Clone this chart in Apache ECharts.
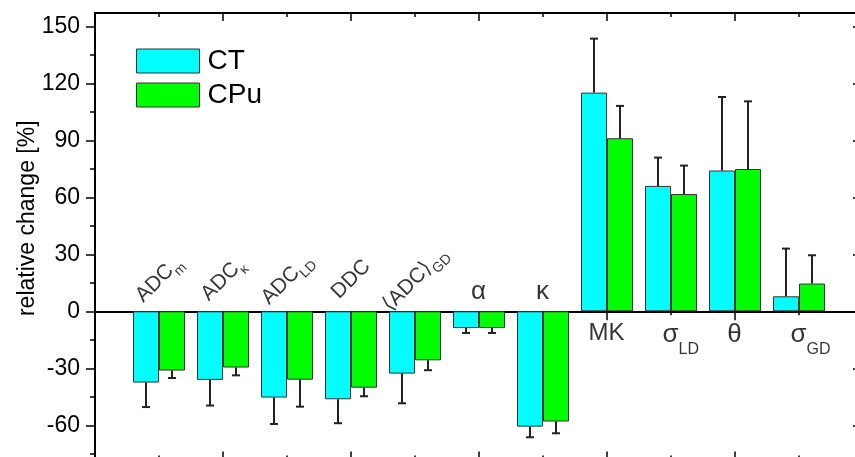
<!DOCTYPE html>
<html><head><meta charset="utf-8">
<script src="https://cdn.jsdelivr.net/npm/echarts@6/dist/echarts.min.js"></script>
<style>html,body{margin:0;padding:0;background:#fff}#c{width:855px;height:457px}</style>
</head><body><div id="c"></div>
<script>
// ---- data ----
const catMain = ['ADC', 'ADC', 'ADC', 'DDC', '⟨ADC⟩', 'α', 'κ', 'MK', 'σ', 'θ', 'σ'];
const catSub  = ['m', 'κ', 'LD', '', 'GD', '', '', '', 'LD', '', 'GD'];
const seriesNames = ['CT', 'CPu'];
const ctValues  = [-37.5, -36.1, -45.4, -46.3, -32.8, -8.8, -60.7, 115.1, 66.0, 74.1, 7.9];
const ctErrors  = [12.9, 13.5, 13.9, 12.6, 15.6, 2.6, 5.6, 28.4, 14.9, 38.7, 25.1];
const cpuValues = [-31.2, -29.6, -36.0, -40.2, -25.8, -8.8, -58.0, 91.1, 61.7, 74.9, 14.6];
const cpuErrors = [3.9, 4.1, 14.2, 4.5, 5.2, 2.6, 6.2, 17.0, 15.0, 35.6, 14.9];
const yTickLabels = [-60, -30, 0, 30, 60, 90, 120, 150];
const yMinorTicks = [-75, -45, -15, 15, 45, 75, 105, 135];
const yName = 'relative change [%]';

// ---- styles ----
const FONT = '"Liberation Sans", Arial, Helvetica, sans-serif';
const BAR_W = 26, CAP = 4;
const COLORS = ['#00ffff', '#00ff00'];
const N = catMain.length;
const slotNames = Array.from({length: N + 2}, (_, i) => String(i));

const mctx = document.createElement('canvas').getContext('2d');
function textW(t, size) { mctx.font = size + 'px ' + FONT; return mctx.measureText(t).width; }

// rich styles (subscripts pushed down with top padding)
const NF = 21, NSF = 14, ND = 6;                 // rotated negative labels
const NPAD = Math.round(0.81 * NF + ND - 0.81 * NSF);
const PF = 24, PG = 26, PSF = 16, PD = 12;       // positive labels
const PPAD = Math.round(0.81 * PG + PD - 0.81 * PSF);
const rich = {
  nm: {fontFamily: FONT, fontSize: NF, verticalAlign: 'top', color: '#000'},
  ns: {fontFamily: FONT, fontSize: NSF, verticalAlign: 'top', padding: [NPAD, 0, 0, 0], color: '#000'},
  ng: {fontFamily: FONT, fontSize: PG, verticalAlign: 'middle', color: '#000'},
  pm: {fontFamily: FONT, fontSize: PF, verticalAlign: 'top', color: '#000'},
  pg: {fontFamily: FONT, fontSize: PG, verticalAlign: 'top', color: '#000'},
  ps: {fontFamily: FONT, fontSize: PSF, verticalAlign: 'top', padding: [PPAD, 0, 0, 0], color: '#000'}
};
const isGreek = s => /^[\u0370-\u03ff]$/.test(s);

const labelData = catMain.map((main, i) => {
  const sub = catSub[i];
  const neg = ctValues[i] < 0;
  let text, lab;
  if (neg && !isGreek(main)) {
    text = '{nm|' + main + '}' + (sub ? '{ns|' + sub + '}' : '');
    lab = {rotate: 45, align: 'center', verticalAlign: 'top', position: [-7, -39]};
  } else if (neg) {
    text = '{ng|' + main + '}';
    lab = {rotate: 0, align: 'center', verticalAlign: 'middle', position: [0, -19]};
  } else {
    const st = isGreek(main) ? 'pg' : 'pm';
    let pad = '';
    if (sub) {
      const key = 'pad' + i;
      rich[key] = {width: textW(sub, PSF), fontSize: PSF, verticalAlign: 'top'};
      pad = '{' + key + '| }';
    }
    text = pad + '{' + st + '|' + main + '}' + (sub ? '{ps|' + sub + '}' : '');
    lab = {rotate: 0, align: 'center', verticalAlign: 'top', position: [0, 11]};
  }
  lab.formatter = text;
  return {value: [i + 1, 0], label: lab};
});

function errSeries(name, values, errors, dir) {
  return {
    type: 'custom', name: name, xAxisIndex: 0, yAxisIndex: 0, z: 5, silent: true,
    data: values.map((v, i) => [i + 1, v, v + Math.sign(v) * errors[i]]),
    renderItem(params, api) {
      const p0 = api.coord([api.value(0), api.value(1)]);
      const p1 = api.coord([api.value(0), api.value(2)]);
      const x = p0[0] + dir * BAR_W / 2;
      const st = {stroke: '#222', lineWidth: 2};
      return {type: 'group', children: [
        {type: 'line', shape: {x1: x, y1: p0[1], x2: x, y2: p1[1]}, style: st},
        {type: 'line', shape: {x1: x - CAP, y1: p1[1], x2: x + CAP, y2: p1[1]}, style: st}
      ]};
    }
  };
}

function frameX(pos, onZero, inside, len, minLen) {
  return {
    type: 'value', min: 0, max: N + 1, interval: 2, position: pos,
    axisLine: {show: true, onZero: onZero, onZeroAxisIndex: 0, lineStyle: {color: '#000', width: 2}},
    axisTick: {show: true, inside: inside, length: len, lineStyle: {color: '#000', width: 1.5}},
    minorTick: {show: true, splitNumber: 2, length: minLen, lineStyle: {color: '#000', width: 1.5}},
    axisLabel: {show: false}, splitLine: {show: false}, minorSplitLine: {show: false}
  };
}
function frameY(pos, ticks, inside, len, showLine, extra) {
  return Object.assign({
    type: 'value', min: -78, max: 157, position: pos,
    axisLine: {show: showLine, onZero: false, lineStyle: {color: '#000', width: 2}},
    axisTick: {show: true, inside: inside, length: len, customValues: ticks, lineStyle: {color: '#000', width: 1.5}},
    axisLabel: {show: false}, splitLine: {show: false}
  }, extra || {});
}

const chart = echarts.init(document.getElementById('c'), null, {renderer: 'canvas'});
chart.setOption({
  animation: false,
  textStyle: {fontFamily: FONT, color: '#000'},
  grid: {left: 95, right: -8, top: 13, bottom: -2.5, containLabel: false, outerBoundsMode: 'none'},
  legend: {
    data: seriesNames, orient: 'vertical', left: 136, top: 47, icon: 'rect', padding: 0,
    itemWidth: 63, itemHeight: 24, itemGap: 6,
    itemStyle: {borderColor: '#333', borderWidth: 1},
    textStyle: {fontFamily: FONT, fontSize: 28, color: '#000', lineHeight: 24, padding: [0, 0, 0, 3]}
  },
  xAxis: [
    {type: 'category', data: slotNames, boundaryGap: false, show: false},
    frameX('bottom', false, true, 8, 4),
    frameX('top', false, true, 8, 4),
    frameX('bottom', true, false, 9, 4)
  ],
  yAxis: [
    frameY('left', yTickLabels, false, 9, true, {
      axisLabel: {show: true, customValues: yTickLabels, margin: 15, fontSize: 23, fontFamily: FONT, color: '#000'},
      name: yName, nameLocation: 'middle', nameRotate: 90, nameGap: 56, nameMoveOverlap: false,
      nameTextStyle: {fontSize: 23, fontFamily: FONT, color: '#000', padding: [0, 0, 0, 36]}
    }),
    frameY('left', yMinorTicks, false, 5, false),
    frameY('right', yTickLabels, true, 10, true),
    frameY('right', yMinorTicks, true, 6, false)
  ],
  series: [
    {type: 'bar', name: seriesNames[0], xAxisIndex: 0, yAxisIndex: 0, barWidth: BAR_W, barGap: '0%', z: 3,
     itemStyle: {color: COLORS[0], borderColor: '#333', borderWidth: 1},
     data: ctValues.map((v, i) => [i + 1, v])},
    {type: 'bar', name: seriesNames[1], xAxisIndex: 0, yAxisIndex: 0, barWidth: BAR_W, barGap: '0%', z: 3,
     itemStyle: {color: COLORS[1], borderColor: '#333', borderWidth: 1},
     data: cpuValues.map((v, i) => [i + 1, v])},
    errSeries('CT err', ctValues, ctErrors, -1),
    errSeries('CPu err', cpuValues, cpuErrors, 1),
    {type: 'scatter', name: 'labels', xAxisIndex: 0, yAxisIndex: 0, symbolSize: 1, silent: true, z: 6,
     itemStyle: {color: 'rgba(0,0,0,0)'},
     label: {show: true, rich: rich, color: '#000', fontFamily: FONT},
     data: labelData}
  ]
});
</script></body></html>
